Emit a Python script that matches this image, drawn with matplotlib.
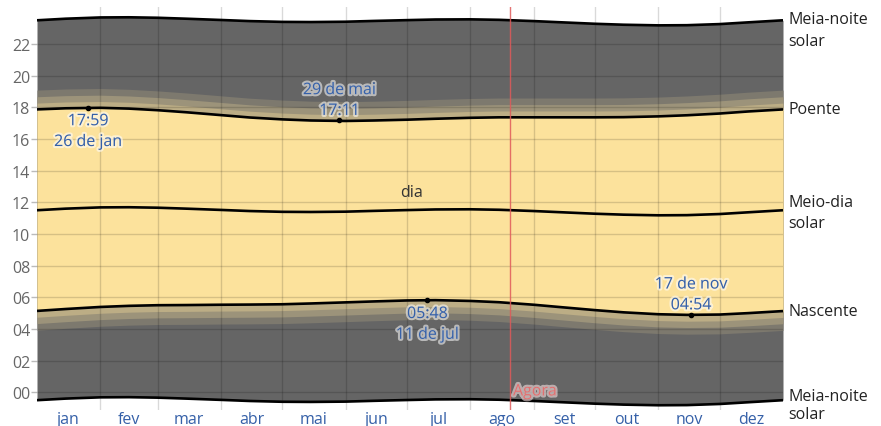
import matplotlib
matplotlib.use('Agg')
import matplotlib.pyplot as plt
import matplotlib.patheffects as pe
import numpy as np

plt.rcParams['font.family'] = ['Open Sans', 'DejaVu Sans']

# dias do ano (0 = 1 de jan)
days = [0, 14, 31, 45, 59, 73, 90, 104, 120, 134, 151, 165, 181, 195,
        212, 226, 243, 257, 273, 287, 304, 318, 334, 348, 365]
# horários em horas decimais
noon = [11.50, 11.60, 11.68, 11.69, 11.66, 11.60, 11.52, 11.45, 11.40, 11.39,
        11.41, 11.46, 11.51, 11.55, 11.56, 11.53, 11.45, 11.37, 11.28, 11.22,
        11.18, 11.19, 11.26, 11.37, 11.50]
sunrise = [5.14, 5.26, 5.39, 5.46, 5.50, 5.51, 5.53, 5.54, 5.56, 5.61,
           5.68, 5.74, 5.80, 5.82, 5.77, 5.69, 5.53, 5.37, 5.19, 5.05,
           4.93, 4.89, 4.91, 5.00, 5.13]
sunset = [17.87, 17.94, 17.97, 17.92, 17.82, 17.69, 17.51, 17.36, 17.24, 17.17,
          17.14, 17.17, 17.22, 17.28, 17.34, 17.37, 17.37, 17.37, 17.37, 17.38,
          17.43, 17.50, 17.61, 17.74, 17.87]
midnight_top = [23.50, 23.60, 23.68, 23.69, 23.66, 23.60, 23.52, 23.45, 23.40, 23.39,
                23.41, 23.46, 23.51, 23.55, 23.56, 23.53, 23.45, 23.37, 23.28, 23.22,
                23.18, 23.19, 23.26, 23.37, 23.50]
midnight_bot = [-0.50, -0.40, -0.32, -0.31, -0.34, -0.40, -0.48, -0.55, -0.60, -0.61,
                -0.59, -0.54, -0.49, -0.45, -0.44, -0.47, -0.55, -0.63, -0.72, -0.78,
                -0.82, -0.81, -0.74, -0.63, -0.50]
# duração de cada crepúsculo (civil, náutico, astronômico), horas
twilight = [0.40, 0.40, 0.42]

months = ['jan', 'fev', 'mar', 'abr', 'mai', 'jun', 'jul', 'ago', 'set', 'out', 'nov', 'dez']
month_len = [31, 28, 31, 30, 31, 30, 31, 31, 30, 31, 30, 31]

# extremos marcados
extremes = [
    (25, 17.98, '17:59\n26 de jan', 'below'),
    (148, 17.18, '29 de mai\n17:11', 'above'),
    (191, 5.80, '05:48\n11 de jul', 'below'),
    (320, 4.90, '17 de nov\n04:54', 'above'),
]
now_day = 231.4

day_col = '#fce29c'
night_col = '#656565'
tw_cols = ['#bcad85', '#9c937a', '#7d796e']
blue = '#3560a8'

x = np.array(days)
rise = np.array(sunrise)
sset = np.array(sunset)

fig = plt.figure(figsize=(8.81, 4.27), dpi=100)
ax = fig.add_axes([37 / 881, 1 - 411 / 427, 746 / 881, 403 / 427])

ax.fill_between(x, midnight_bot, midnight_top, color=night_col, lw=0, zorder=1)
# crepúsculos, do mais escuro ao mais claro
for i in range(2, -1, -1):
    off = sum(twilight[:i + 1])
    ax.fill_between(x, rise - off, sset + off, color=tw_cols[i], lw=0, zorder=1)
ax.fill_between(x, rise, sset, color=day_col, lw=0, zorder=2)

for series in (midnight_top, midnight_bot, sunrise, sunset, noon):
    ax.plot(x, series, color='black', lw=1.9, zorder=4, solid_capstyle='butt')

ax.set_xlim(0, 365)
ax.set_ylim(-1.12, 24.34)

# grade
bounds = np.cumsum(month_len)[:-1]
for b in bounds:
    ax.axvline(b, color='black', alpha=0.15, lw=1, zorder=3)
ax.set_yticks(range(0, 24, 2))
ax.set_yticklabels([f'{h:02d}' for h in range(0, 24, 2)])
for h in range(0, 24, 2):
    ax.axhline(h, color='black', alpha=0.15, lw=1, zorder=3)
ax.tick_params(axis='y', length=4, width=1, color='#bbbbbb', pad=1,
               labelsize=11.5, labelcolor='#666666')

centers = np.cumsum(month_len) - np.array(month_len) / 2
ax.set_xticks(centers)
ax.set_xticklabels(months)
ax.tick_params(axis='x', length=0, pad=0.5, labelsize=11.5, labelcolor=blue)
for s in ax.spines.values():
    s.set_visible(False)

# agora
ax.axvline(now_day, color='#e05a5a', lw=1, alpha=0.85, zorder=5)
ax.text(now_day + 1.5, 0.05, 'Agora', color='#e07070', fontsize=11.5, va='center',
        ha='left', zorder=6,
        path_effects=[pe.withStroke(linewidth=3, foreground='#f4dede', alpha=0.6)])

ax.text(183, 12.65, 'dia', color='#333333', fontsize=11.5, ha='center', va='center', zorder=6)

halo = [pe.withStroke(linewidth=3, foreground='white', alpha=0.55)]
for d, v, lab, pos in extremes:
    ax.plot(d, v, 'o', color='black', ms=3, zorder=6)
    if pos == 'below':
        ax.annotate(lab, (d, v), xytext=(0, -4), textcoords='offset points',
                    ha='center', va='top', color=blue, fontsize=11.5,
                    linespacing=1.4, zorder=7, path_effects=halo)
    else:
        ax.annotate(lab, (d, v), xytext=(0, 1), textcoords='offset points',
                    ha='center', va='bottom', color=blue, fontsize=11.5,
                    linespacing=1.4, zorder=7, path_effects=halo)

# rótulos à direita
right = [
    (midnight_top[-1], 'Meia-noite', 1),
    (midnight_top[-1], 'solar', -15),
    (sunset[-1], 'Poente', 0),
    (noon[-1], 'Meio-dia', 6),
    (noon[-1], 'solar', -9),
    (sunrise[-1], 'Nascente', 0),
    (midnight_bot[-1], 'Meia-noite', 3),
    (midnight_bot[-1], 'solar', -10),
]
for v, lab, dy in right:
    ax.annotate(lab, (365, v), xytext=(4, dy), textcoords='offset points',
                ha='left', va='center', fontsize=11.5, color='#222222',
                annotation_clip=False)

fig.savefig('out.png', dpi=100)
